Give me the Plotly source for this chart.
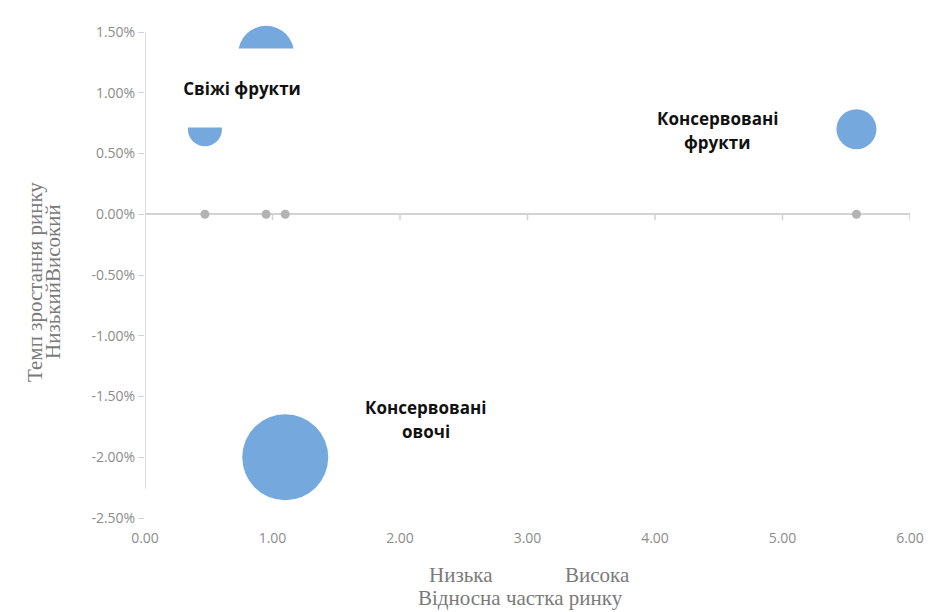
import plotly.graph_objects as go

# Product groups: relative market share (x), market growth rate (y), sales volume (bubble area)
share = [0.47, 0.95, 5.58, 1.10]
growth = [0.0070, 0.0132, 0.0070, -0.0200]
volume = [11.6, 31.4, 16.0, 74.0]

x_ticks = [0, 1, 2, 3, 4, 5, 6]
y_ticks = [0.015, 0.010, 0.005, 0.0, -0.005, -0.010, -0.015, -0.020, -0.025]
y_tick_text = [f"{v * 100:.2f}%".replace("\u2212", "-") for v in y_ticks]

BLUE = "#75A9DD"
GREY_DOT = "#B3B3B3"
AXIS = "#D3D3D3"
TICK_TXT = "#8C8C8C"
TITLE_TXT = "#7A7A7A"

max_diam = 86
sizeref = 2.0 * max(volume) / (max_diam ** 2)

fig = go.Figure()

# projections of each group onto the zero-growth line
fig.add_trace(go.Scatter(
    x=share, y=[0] * len(share), mode="markers",
    marker=dict(size=9, color=GREY_DOT, line=dict(width=0)),
    hoverinfo="skip", showlegend=False, cliponaxis=False,
))

# bubbles
fig.add_trace(go.Scatter(
    x=share, y=growth, mode="markers",
    marker=dict(size=volume, sizemode="area", sizeref=sizeref,
                color=BLUE, opacity=1, line=dict(width=0)),
    showlegend=False, cliponaxis=False,
))

label_font = dict(family="Open Sans", size=17, color="#111111")


def label(lines, x, y, spacing=24):
    n = len(lines)
    for i, line in enumerate(lines):
        off = (n - 1) / 2 * spacing - i * spacing
        fig.add_annotation(x=x, y=y, xref="x", yref="y", text=f"<b>{line}</b>",
                           showarrow=False, font=label_font, yshift=off,
                           xanchor="center", yanchor="middle")


# data label with white box for fresh fruits
fig.add_annotation(x=0.76, y=0.0104, xref="x", yref="y",
                   text="<b>Свіжі фрукти</b>", showarrow=False, font=label_font,
                   bgcolor="white", width=142, height=78, borderpad=0,
                   xanchor="center", yanchor="middle")
label(["Консервовані", "фрукти"], 4.49, 0.0069)
label(["Консервовані", "овочі"], 2.20, -0.0169)

# y-axis line and x tick marks on the zero line
fig.add_shape(type="line", xref="x", yref="y", x0=0, x1=0, y0=0.015, y1=-0.0226,
              line=dict(color=AXIS, width=1.5), layer="below")
for t in x_ticks[1:]:
    fig.add_shape(type="line", xref="x", yref="y", x0=t, x1=t,
                  ysizemode="pixel", yanchor=0, y0=0, y1=-6,
                  line=dict(color=AXIS, width=1.5), layer="below")

title_font = dict(family="Liberation Serif", size=21, color=TITLE_TXT)

# axis titles
fig.add_annotation(xref="paper", yref="paper", x=(461 - 145) / 765, y=(518 - 575) / 486,
                   text="Низька", showarrow=False, font=title_font,
                   xanchor="center", yanchor="middle")
fig.add_annotation(xref="paper", yref="paper", x=(597 - 145) / 765, y=(518 - 575) / 486,
                   text="Висока", showarrow=False, font=title_font,
                   xanchor="center", yanchor="middle")
fig.add_annotation(xref="paper", yref="paper", x=(520 - 145) / 765, y=(518 - 598) / 486,
                   text="Відносна частка ринку", showarrow=False, font=title_font,
                   xanchor="center", yanchor="middle")
fig.add_annotation(xref="paper", yref="paper", x=(35 - 145) / 765, y=(518 - 282) / 486,
                   text="Темп зростання ринку", showarrow=False, font=title_font,
                   textangle=-90, xanchor="center", yanchor="middle")
fig.add_annotation(xref="paper", yref="paper", x=(53 - 145) / 765, y=(518 - 282) / 486,
                   text="НизькийВисокий", showarrow=False, font=title_font,
                   textangle=-90, xanchor="center", yanchor="middle")

tick_font = dict(family="Open Sans", size=14, color=TICK_TXT)

fig.update_layout(
    width=937, height=612,
    margin=dict(l=145, r=27, t=32, b=94),
    plot_bgcolor="white", paper_bgcolor="white",
    xaxis=dict(range=[0, 6], tickvals=x_ticks, tickformat=".2f",
               showgrid=False, zeroline=False, showline=False, ticks="",
               tickfont=tick_font, ticklabelstandoff=10),
    yaxis=dict(range=[-0.025, 0.015], tickvals=y_ticks, ticktext=y_tick_text,
               showgrid=False, zeroline=True, zerolinecolor=AXIS, zerolinewidth=1.5,
               showline=False, ticks="outside", ticklen=6, tickcolor=AXIS,
               tickfont=tick_font),
)

fig.write_html("out.html")
